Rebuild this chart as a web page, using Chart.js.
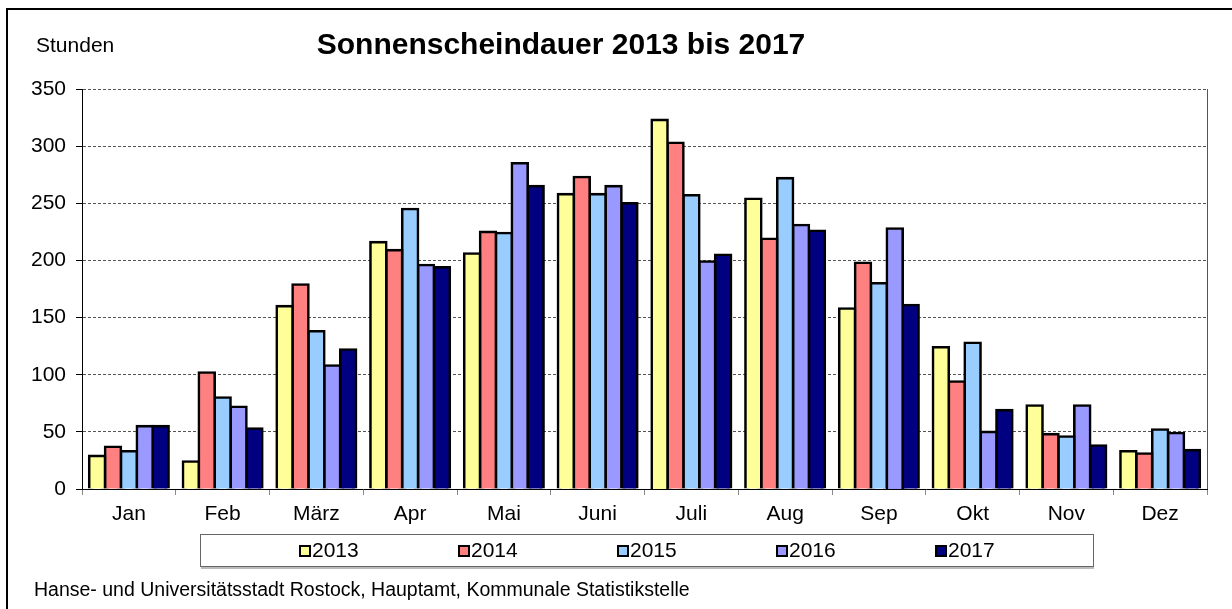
<!DOCTYPE html>
<html>
<head>
<meta charset="utf-8">
<script src="https://cdn.jsdelivr.net/npm/chart.js@4"></script>
<style>
  html, body { margin: 0; padding: 0; background: #fff; }
  canvas { display: block; }
</style>
</head>
<body>
<canvas id="sonne" width="1232" height="609"></canvas>
<script>
const months = ['Jan', 'Feb', 'März', 'Apr', 'Mai', 'Juni', 'Juli', 'Aug', 'Sep', 'Okt', 'Nov', 'Dez'];
const years = ['2013', '2014', '2015', '2016', '2017'];
const s2013 = [29, 24, 160, 216, 206, 258, 323, 254, 158, 124, 73, 33];
const s2014 = [37, 102, 179, 209, 225, 273, 303, 219, 198, 94, 48, 31];
const s2015 = [33, 80, 138, 245, 224, 258, 257, 272, 180, 128, 46, 52];
const s2016 = [55, 72, 108, 196, 285, 265, 199, 231, 228, 50, 73, 49];
const s2017 = [55, 53, 122, 194, 265, 250, 205, 226, 161, 69, 38, 34];
const yTicks = [0, 50, 100, 150, 200, 250, 300, 350];
const colors = ['#FFFF99', '#FF8080', '#99CCFF', '#9999FF', '#000080'];

const FONT = '"Liberation Sans", Arial, sans-serif';

// frame, texts, legend
const decor = {
    id: 'decor',
    afterDraw(chart) {
        const c = chart.ctx;
        const area = chart.chartArea;
        c.save();

        // outer frame (top + left only)
        c.fillStyle = '#000';
        c.fillRect(6, 8, 1226, 2);
        c.fillRect(6, 8, 2, 601);

        // right edge of the plot
        c.strokeStyle = '#555';
        c.lineWidth = 1;
        c.beginPath();
        c.moveTo(Math.round(area.right) + 0.5, area.top);
        c.lineTo(Math.round(area.right) + 0.5, area.bottom);
        c.stroke();

        c.fillStyle = '#000';
        c.textBaseline = 'middle';
        c.textAlign = 'left';
        c.font = '21px ' + FONT;
        c.fillText('Stunden', 36, 46);

        c.textAlign = 'center';
        c.font = 'bold 30px ' + FONT;
        c.fillText('Sonnenscheindauer 2013 bis 2017', 561, 46);

        c.textAlign = 'left';
        c.font = '19.5px ' + FONT;
        c.fillText('Hanse- und Universitätsstadt Rostock, Hauptamt, Kommunale Statistikstelle', 34, 591);

        // legend box
        c.fillStyle = '#bbb';
        c.fillRect(201, 567, 893, 2);
        c.strokeStyle = '#666';
        c.lineWidth = 1;
        c.strokeRect(200.5, 534.5, 893, 32);

        c.font = '21px ' + FONT;
        chart.data.datasets.forEach((ds, i) => {
            const x = 300 + i * 159;
            c.fillStyle = ds.backgroundColor;
            c.fillRect(x, 546, 10, 10);
            c.strokeStyle = '#000';
            c.lineWidth = 2;
            c.strokeRect(x, 546, 10, 10);
            c.fillStyle = '#000';
            c.fillText(ds.label, x + 12, 551);
        });
        c.restore();
    }
};

const ctx = document.getElementById('sonne');
const seriesValues = [s2013, s2014, s2015, s2016, s2017];

new Chart(ctx, {
    type: 'bar',
    data: {
        labels: months,
        datasets: years.map((y, i) => ({
            label: y,
            data: seriesValues[i],
            backgroundColor: colors[i],
            borderColor: '#000',
            borderWidth: 2.6,
            borderSkipped: 'bottom',
            inflateAmount: 1.3,
            categoryPercentage: 0.847,
            barPercentage: 1.0,
        }))
    },
    options: {
        responsive: false,
        animation: false,
        layout: {
            padding: { top: 89, right: 25, left: 0, bottom: 0 }
        },
        plugins: {
            legend: { display: false },
            title: { display: false },
            tooltip: { enabled: false },
        },
        scales: {
            y: {
                min: 0,
                max: 350,
                afterFit: (s) => { s.width = 82; },
                afterBuildTicks: (s) => { s.ticks = yTicks.map(v => ({ value: v })); },
                ticks: {
                    color: '#000',
                    padding: 10,
                    font: { family: FONT, size: 21 },
                },
                grid: {
                    color: (c) => c.tick && c.tick.value === 0 ? 'rgba(0,0,0,0)' : '#555',
                    lineWidth: 1,
                    tickLength: 6,
                    tickColor: '#000',
                    tickBorderDash: [],
                },
                border: {
                    display: true,
                    color: '#000',
                    width: 1,
                    dash: [3, 2],
                },
            },
            x: {
                afterFit: (s) => { s.height = 120; },
                ticks: {
                    color: '#000',
                    padding: 7,
                    font: { family: FONT, size: 21 },
                },
                grid: {
                    display: true,
                    drawOnChartArea: false,
                    color: '#888',
                    tickLength: 6,
                },
                border: {
                    display: true,
                    color: '#000',
                    width: 1,
                },
            },
        },
    },
    plugins: [decor],
});
</script>
</body>
</html>
